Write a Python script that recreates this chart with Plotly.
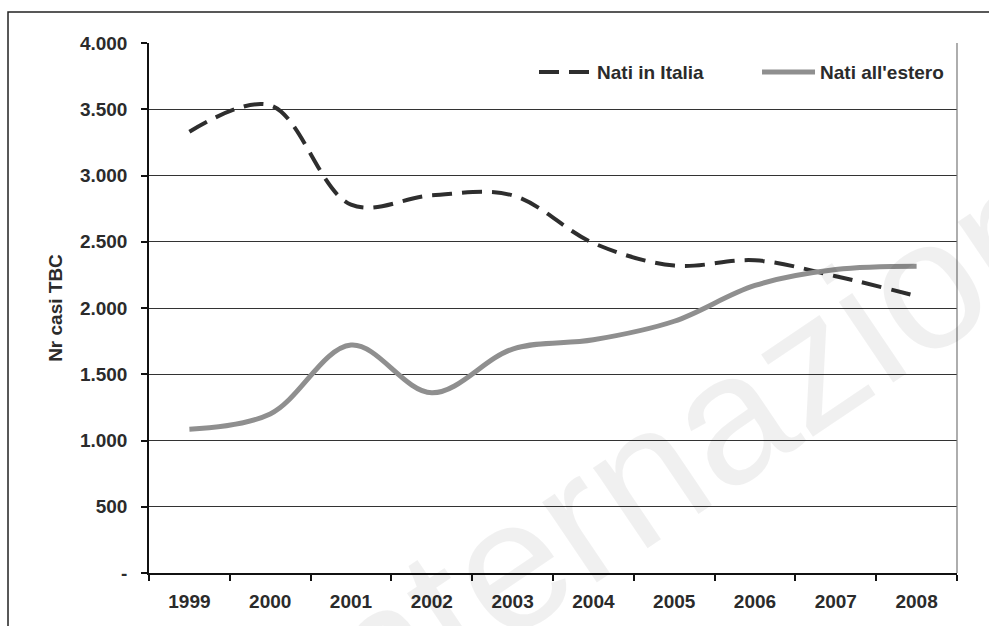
import plotly.graph_objects as go

# Casi di TBC per paese di nascita, 1999-2008
anni = ["1999", "2000", "2001", "2002", "2003", "2004", "2005", "2006", "2007", "2008"]
nati_italia = [3330, 3530, 2780, 2850, 2850, 2490, 2320, 2360, 2240, 2090]
nati_estero = [1085, 1200, 1720, 1360, 1690, 1760, 1900, 2170, 2290, 2315]

y_ticks = [0, 500, 1000, 1500, 2000, 2500, 3000, 3500, 4000]
y_labels = ["-", "500", "1.000", "1.500", "2.000", "2.500", "3.000", "3.500", "4.000"]

FONT = "Liberation Sans, Arial, sans-serif"
TXT = "#2b2b2b"
FS = 19

fig = go.Figure()
fig.add_trace(go.Scatter(
    x=anni, y=nati_italia, name="Nati in Italia", mode="lines", legend="legend",
    line=dict(color="#2e2e2e", width=4, dash="20px,10px", shape="spline", smoothing=1),
))
fig.add_trace(go.Scatter(
    x=anni, y=nati_estero, name="Nati all'estero", mode="lines", legend="legend2",
    line=dict(color="#8f8f8f", width=5, shape="spline", smoothing=1),
))

legend_style = dict(
    orientation="h", xanchor="left", y=0.945, yanchor="middle",
    font=dict(family=FONT, size=FS, color=TXT, weight="bold"),
    bgcolor="rgba(255,255,255,0)", itemwidth=53,
)

fig.update_layout(
    width=989, height=626,
    margin=dict(l=149, r=32, t=43, b=53),
    paper_bgcolor="white", plot_bgcolor="white",
    font=dict(family=FONT, color=TXT, size=FS, weight="bold"),
    showlegend=True,
    legend=dict(x=0.4765, **legend_style),
    legend2=dict(x=0.7525, **legend_style),
    xaxis=dict(
        type="category", categoryorder="array", categoryarray=anni,
        range=[-0.5, 9.5], tickson="boundaries", ticks="outside", ticklen=6,
        tickcolor="#111", tickwidth=1.5, showline=True, linecolor="#111", linewidth=1.5,
        showgrid=False, ticklabelstandoff=10,
        tickfont=dict(family=FONT, size=FS, color=TXT, weight="bold"),
    ),
    yaxis=dict(
        range=[0, 4000], tickvals=y_ticks, ticktext=y_labels,
        ticks="outside", ticklen=6, tickcolor="#111", tickwidth=1.5,
        showline=True, linecolor="#111", linewidth=1.5,
        showgrid=True, gridcolor="#333", gridwidth=1.3, zeroline=False,
        ticklabelstandoff=10,
        tickfont=dict(family=FONT, size=FS, color=TXT, weight="bold"),
        title=dict(text="Nr casi TBC", standoff=12,
                   font=dict(family=FONT, size=FS, color=TXT, weight="bold")),
    ),
    shapes=[
        # bordo destro dell'area del grafico
        dict(type="line", xref="paper", yref="paper", x0=1, x1=1, y0=0, y1=1,
             line=dict(color="#777", width=1.2)),
        # cornice esterna
        dict(type="rect", xref="paper", yref="paper",
             x0=-0.1745, x1=1.06, y0=-0.15, y1=1.0585,
             line=dict(color="#222", width=1.5)),
    ],
    annotations=[
        # filigrana dell'editore
        dict(text="Internazionale", xref="paper", yref="paper", x=0.775, y=0.355,
             xanchor="center", yanchor="middle",
             showarrow=False, textangle=-34,
             font=dict(family="Liberation Sans, Arial, sans-serif", size=184,
                       weight="normal", color="rgba(0,0,0,0.06)")),
    ],
)

fig.write_html("out.html")
